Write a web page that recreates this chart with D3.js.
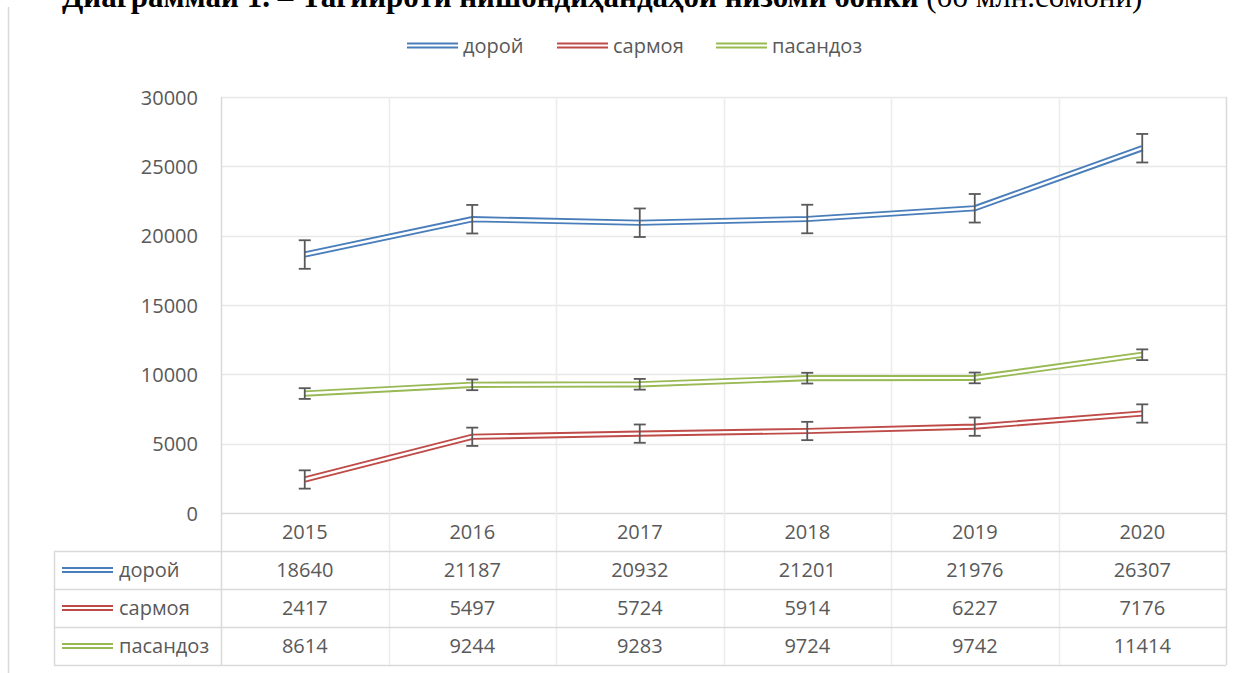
<!DOCTYPE html>
<html>
<head>
<meta charset="utf-8">
<script src="https://cdn.jsdelivr.net/npm/d3@7"></script>
<style>
  html, body { margin: 0; padding: 0; background: #fff; overflow: hidden; }
  svg { display: block; }
  text { font-family: "Open Sans", sans-serif; fill: #595959; }
</style>
</head>
<body>
<svg id="chart" width="1251" height="673"></svg>
<script>
// Years shown on the category axis and in the data table header
const years = ["2015", "2016", "2017", "2018", "2019", "2020"];

// Series values (млн. сомонӣ)
const seriesNames = ["дорой", "сармоя", "пасандоз"];
const doroi    = [18640, 21187, 20932, 21201, 21976, 26307];
const sarmoya  = [2417, 5497, 5724, 5914, 6227, 7176];
const pasandoz = [8614, 9244, 9283, 9724, 9742, 11414];

// Value axis ticks
const yTicks = [0, 5000, 10000, 15000, 20000, 25000, 30000];

const colors = ["#4A7EBB", "#BE4B48", "#98B954"];
const seriesValues = [doroi, sarmoya, pasandoz];

const series = seriesNames.map((name, i) => ({
  name,
  color: colors[i],
  values: seriesValues[i],
  // standard error of the series, shown as error bars
  err: d3.deviation(seriesValues[i]) / Math.sqrt(seriesValues[i].length)
}));

const svg = d3.select("#chart");

const plot = { left: 221, right: 1226, top: 97, bottom: 513 };
const table = { labelLeft: 54, headerBottom: 551, rowH: 38, bottom: 665 };

const x = d3.scaleBand().domain(years).range([plot.left, plot.right]).padding(0);
const y = d3.scaleLinear().domain([0, 30000]).range([plot.bottom, plot.top]);
const cx = d => x(d) + x.bandwidth() / 2;

const gridColor = "#d9d9d9";

// Title (heading above the chart, partly above the top edge)
svg.append("text")
  .attr("x", 62).attr("y", 7)
  .style("font-family", "'Liberation Serif', 'Times New Roman', serif")
  .style("font-size", "31px")
  .style("fill", "#000")
  .call(t => {
    t.append("tspan").style("font-weight", "bold")
      .text("Диаграммаи 1. – Тағйироти нишондиҳандаҳои низоми бонкӣ ");
    t.append("tspan").style("font-weight", "normal").text("(бо млн.сомонӣ)");
  });

// Chart frame left edge
svg.append("line")
  .attr("x1", 8.5).attr("x2", 8.5).attr("y1", 7).attr("y2", 673)
  .attr("stroke", gridColor).attr("stroke-width", 1.5);

// Horizontal gridlines
svg.append("g")
  .selectAll("line")
  .data(yTicks)
  .join("line")
  .attr("x1", plot.left).attr("x2", plot.right)
  .attr("y1", d => Math.round(y(d)) + 0.5).attr("y2", d => Math.round(y(d)) + 0.5)
  .attr("stroke", d => d === 0 ? gridColor : "#e8e8e8")
  .attr("stroke-width", 1.5);

// Vertical category boundaries (through plot and table)
const boundaries = years.map(d => x(d)).concat([plot.right]);
svg.append("g")
  .selectAll("line")
  .data(boundaries)
  .join("line")
  .attr("x1", d => Math.round(d) + 0.5).attr("x2", d => Math.round(d) + 0.5)
  .attr("y1", plot.top)
  .attr("y2", table.bottom)
  .attr("stroke", (d, i) => (i === 0 || i === boundaries.length - 1) ? gridColor : "#ececec")
  .attr("stroke-width", 1.5);

// Y axis labels
const yAxis = d3.axisLeft(y).tickValues(yTicks).tickSize(0).tickPadding(0).tickFormat(d3.format("d"));
svg.append("g")
  .attr("transform", `translate(198,0)`)
  .call(yAxis)
  .call(g => g.select(".domain").remove())
  .call(g => g.selectAll("text")
    .style("font-family", "'Open Sans', sans-serif")
    .style("font-size", "20px")
    .attr("fill", "#595959")
    .attr("dy", "0.36em"));

// Lines: double strand rendered as a wide colored stroke with a white core
const line = d3.line().x((d, i) => cx(years[i])).y(d => y(d));

const lines = svg.append("g");
series.forEach(s => {
  lines.append("path").attr("d", line(s.values))
    .attr("fill", "none").attr("stroke", s.color).attr("stroke-width", 6.2);
  lines.append("path").attr("d", line(s.values))
    .attr("fill", "none").attr("stroke", "#fff").attr("stroke-width", 2.4);
});

// Error bars
const capW = 6;
const eb = svg.append("g").attr("stroke", "#595959").attr("stroke-width", 1.8);
series.forEach(s => {
  s.values.forEach((v, i) => {
    const px = cx(years[i]);
    const y1 = y(v + s.err), y2 = y(v - s.err);
    eb.append("line").attr("x1", px).attr("x2", px).attr("y1", y1).attr("y2", y2);
    eb.append("line").attr("x1", px - capW).attr("x2", px + capW).attr("y1", y1).attr("y2", y1);
    eb.append("line").attr("x1", px - capW).attr("x2", px + capW).attr("y1", y2).attr("y2", y2);
  });
});

// Double-line legend key
function legendKey(g, x0, yc, color) {
  g.append("line").attr("x1", x0).attr("x2", x0 + 51).attr("y1", yc - 2).attr("y2", yc - 2)
    .attr("stroke", color).attr("stroke-width", 2);
  g.append("line").attr("x1", x0).attr("x2", x0 + 51).attr("y1", yc + 2).attr("y2", yc + 2)
    .attr("stroke", color).attr("stroke-width", 2);
}

// Top legend
const legendX = [407, 557, 716];
const legend = svg.append("g");
series.forEach((s, i) => {
  legendKey(legend, legendX[i], 45.5, s.color);
  legend.append("text")
    .attr("x", legendX[i] + 56).attr("y", 46)
    .attr("dy", "0.36em")
    .style("font-size", "20px")
    .text(s.name);
});

// Data table
const tbl = svg.append("g");

// header row: years
tbl.selectAll("text.year")
  .data(years)
  .join("text")
  .attr("class", "year")
  .attr("x", d => cx(d))
  .attr("y", (plot.bottom + table.headerBottom) / 2)
  .attr("dy", "0.36em")
  .attr("text-anchor", "middle")
  .style("font-size", "20px")
  .text(d => d);

// horizontal table rules
const rowTops = [table.headerBottom, table.headerBottom + table.rowH, table.headerBottom + 2 * table.rowH, table.bottom];
tbl.selectAll("line.rule")
  .data(rowTops)
  .join("line")
  .attr("class", "rule")
  .attr("x1", table.labelLeft).attr("x2", plot.right)
  .attr("y1", d => Math.round(d) + 0.5).attr("y2", d => Math.round(d) + 0.5)
  .attr("stroke", gridColor).attr("stroke-width", 1.5);

// left edge of label column
tbl.append("line")
  .attr("x1", table.labelLeft + 0.5).attr("x2", table.labelLeft + 0.5)
  .attr("y1", table.headerBottom).attr("y2", table.bottom)
  .attr("stroke", gridColor).attr("stroke-width", 1.5);

series.forEach((s, r) => {
  const top = rowTops[r], bot = rowTops[r + 1];
  const yc = (top + bot) / 2;
  legendKey(tbl, 62, yc, s.color);
  tbl.append("text")
    .attr("x", 119).attr("y", yc).attr("dy", "0.36em")
    .style("font-size", "20px")
    .text(s.name);
  tbl.selectAll(null)
    .data(s.values)
    .join("text")
    .attr("x", (d, i) => cx(years[i]))
    .attr("y", yc).attr("dy", "0.36em")
    .attr("text-anchor", "middle")
    .style("font-size", "20px")
    .text(d => d);
});
</script>
</body>
</html>
